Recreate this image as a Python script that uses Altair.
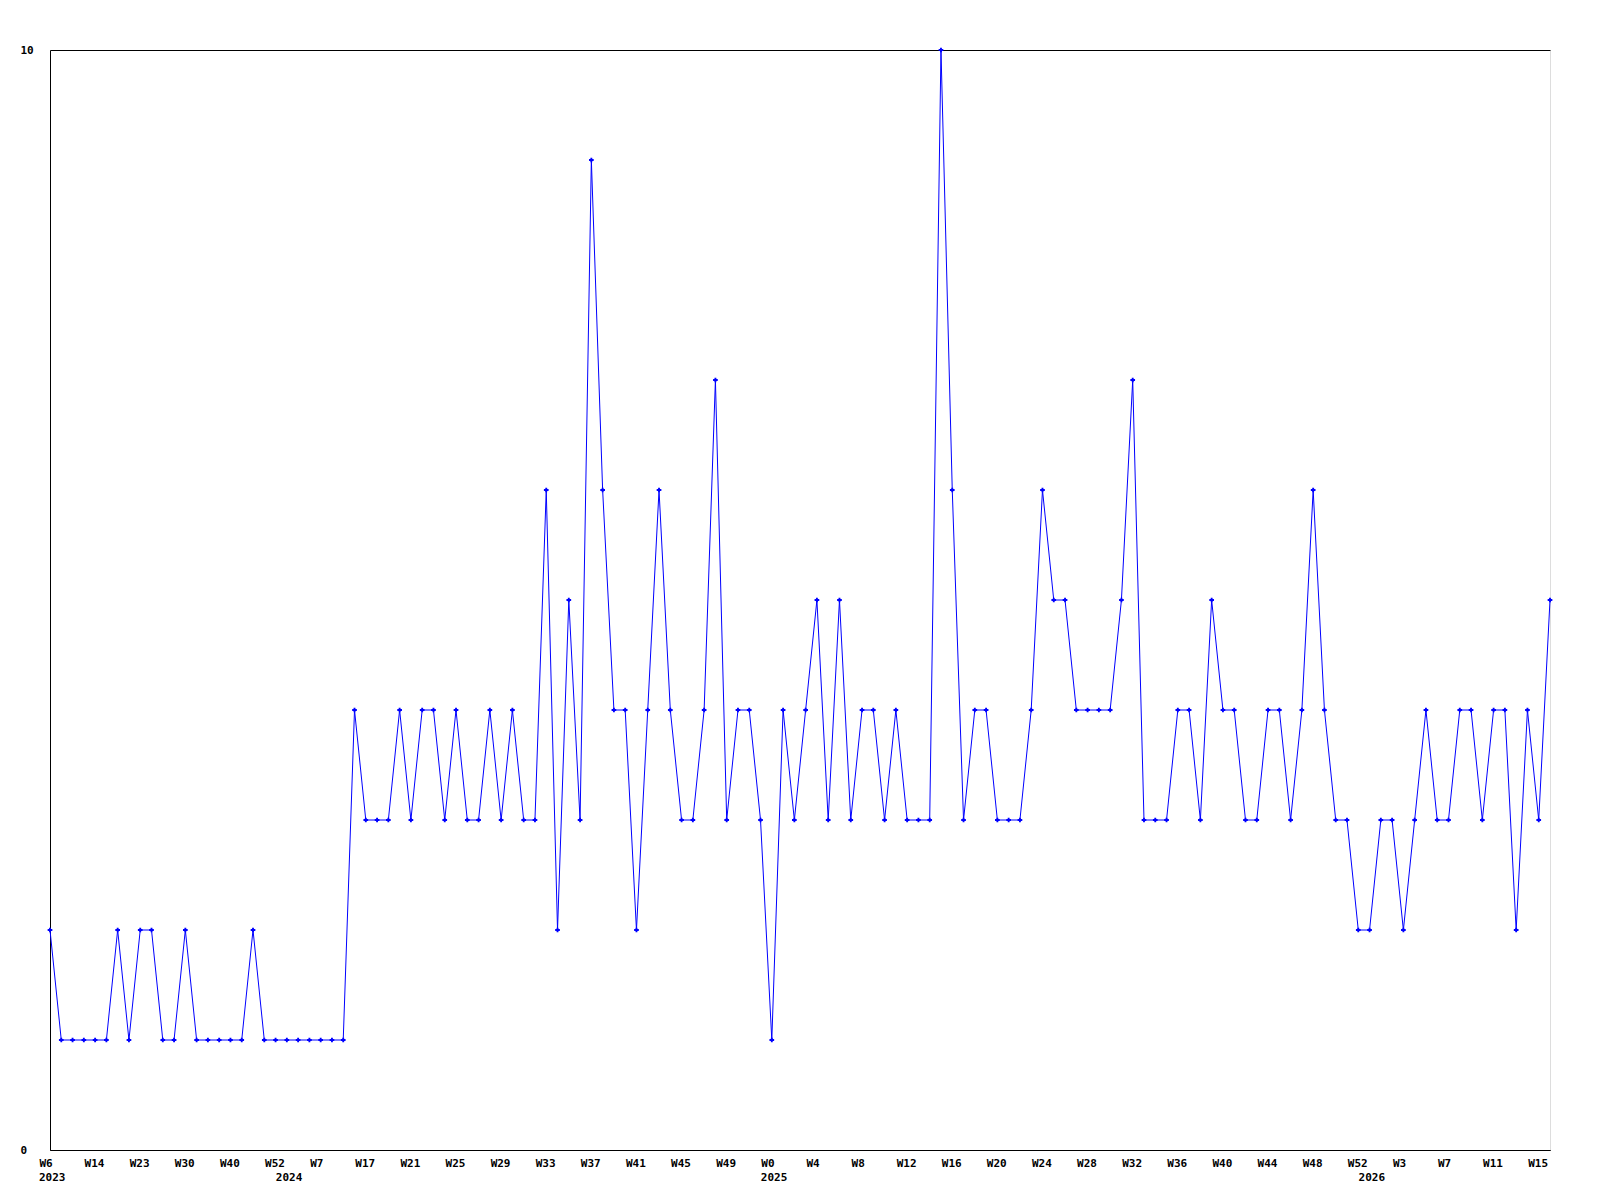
import altair as alt
import pandas as pd

values = [2, 1, 1, 1, 1, 1, 2, 1, 2, 2,
          1, 1, 2, 1, 1, 1, 1, 1, 2, 1,
          1, 1, 1, 1, 1, 1, 1, 4, 3, 3,
          3, 4, 3, 4, 4, 3, 4, 3, 3, 4,
          3, 4, 3, 3, 6, 2, 5, 3, 9, 6,
          4, 4, 2, 4, 6, 4, 3, 3, 4, 7,
          3, 4, 4, 3, 1, 4, 3, 4, 5, 3,
          5, 3, 4, 4, 3, 4, 3, 3, 3, 10,
          6, 3, 4, 4, 3, 3, 3, 4, 6, 5,
          5, 4, 4, 4, 4, 5, 7, 3, 3, 3,
          4, 4, 3, 5, 4, 4, 3, 3, 4, 4,
          3, 4, 6, 4, 3, 3, 2, 2, 3, 3,
          2, 3, 4, 3, 3, 4, 4, 3, 4, 4,
          2, 4, 3, 5]

week_labels = ["W6", "W14", "W23", "W30", "W40", "W52", "W7", "W17", "W21", "W25",
               "W29", "W33", "W37", "W41", "W45", "W49", "W0", "W4", "W8", "W12",
               "W16", "W20", "W24", "W28", "W32", "W36", "W40", "W44", "W48", "W52",
               "W3", "W7", "W11", "W15"]

years = ["2023", "2024", "2025", "2026"]
year_index = [0, 21, 64, 117]

df = pd.DataFrame({"i": list(range(len(values))), "v": values})
ydf = pd.DataFrame({"i": year_index, "year": years})

tick_vals = [4 * k for k in range(len(week_labels))]
label_expr = "[" + ",".join("'" + s + "'" for s in week_labels) + "][datum.value/4]"

FONT = "DejaVu Sans Mono"
W, H = 1500, 1100

x = alt.X("i:Q",
          scale=alt.Scale(domain=[0, len(values) - 1], nice=False, zero=False),
          axis=alt.Axis(values=tick_vals, labelExpr=label_expr, title=None,
                        ticks=False, tickSize=0, grid=False, gridOpacity=0,
                        domainColor="black",
                        labelAlign="left", labelOffset=-11, labelBaseline="top",
                        labelPadding=7, labelFont=FONT, labelFontSize=11,
                        labelFontWeight="bold", labelColor="black",
                        labelOverlap=False, labelFlush=False))
y = alt.Y("v:Q",
          scale=alt.Scale(domain=[0, 10], nice=False),
          axis=alt.Axis(values=[0, 10], format="d", title=None, ticks=False, tickSize=0,
                        grid=True, gridColor="black", gridOpacity=1,
                        domainColor="black", labelAlign="left", labelPadding=30,
                        labelBaseline="middle", labelFont=FONT, labelFontSize=11,
                        labelFontWeight="bold", labelColor="black"))

line = alt.Chart(df).mark_line(color="#0000ff", strokeWidth=1, clip=False).encode(x=x, y=y)
pts = alt.Chart(df).mark_point(shape="cross", filled=True, size=22,
                               color="#0000ff", opacity=1).encode(x=x, y=y)
yrs = alt.Chart(ydf).mark_text(align="left", baseline="top", dx=-11,
                               font=FONT, fontSize=11, fontWeight="bold",
                               color="black").encode(
    x=x, y=alt.value(H + 22), text="year:N")

chart = (alt.layer(line, pts, yrs)
         .properties(width=W, height=H,
                     padding={"left": 42, "top": 42, "right": 40, "bottom": 40},
                     autosize=alt.AutoSizeParams(type="none"))
         .configure_view(stroke=None, strokeWidth=0)
         .configure_axis(grid=False)
         .configure(background="white"))

chart.save("out.html", embed_options={"renderer": "svg", "actions": False})
